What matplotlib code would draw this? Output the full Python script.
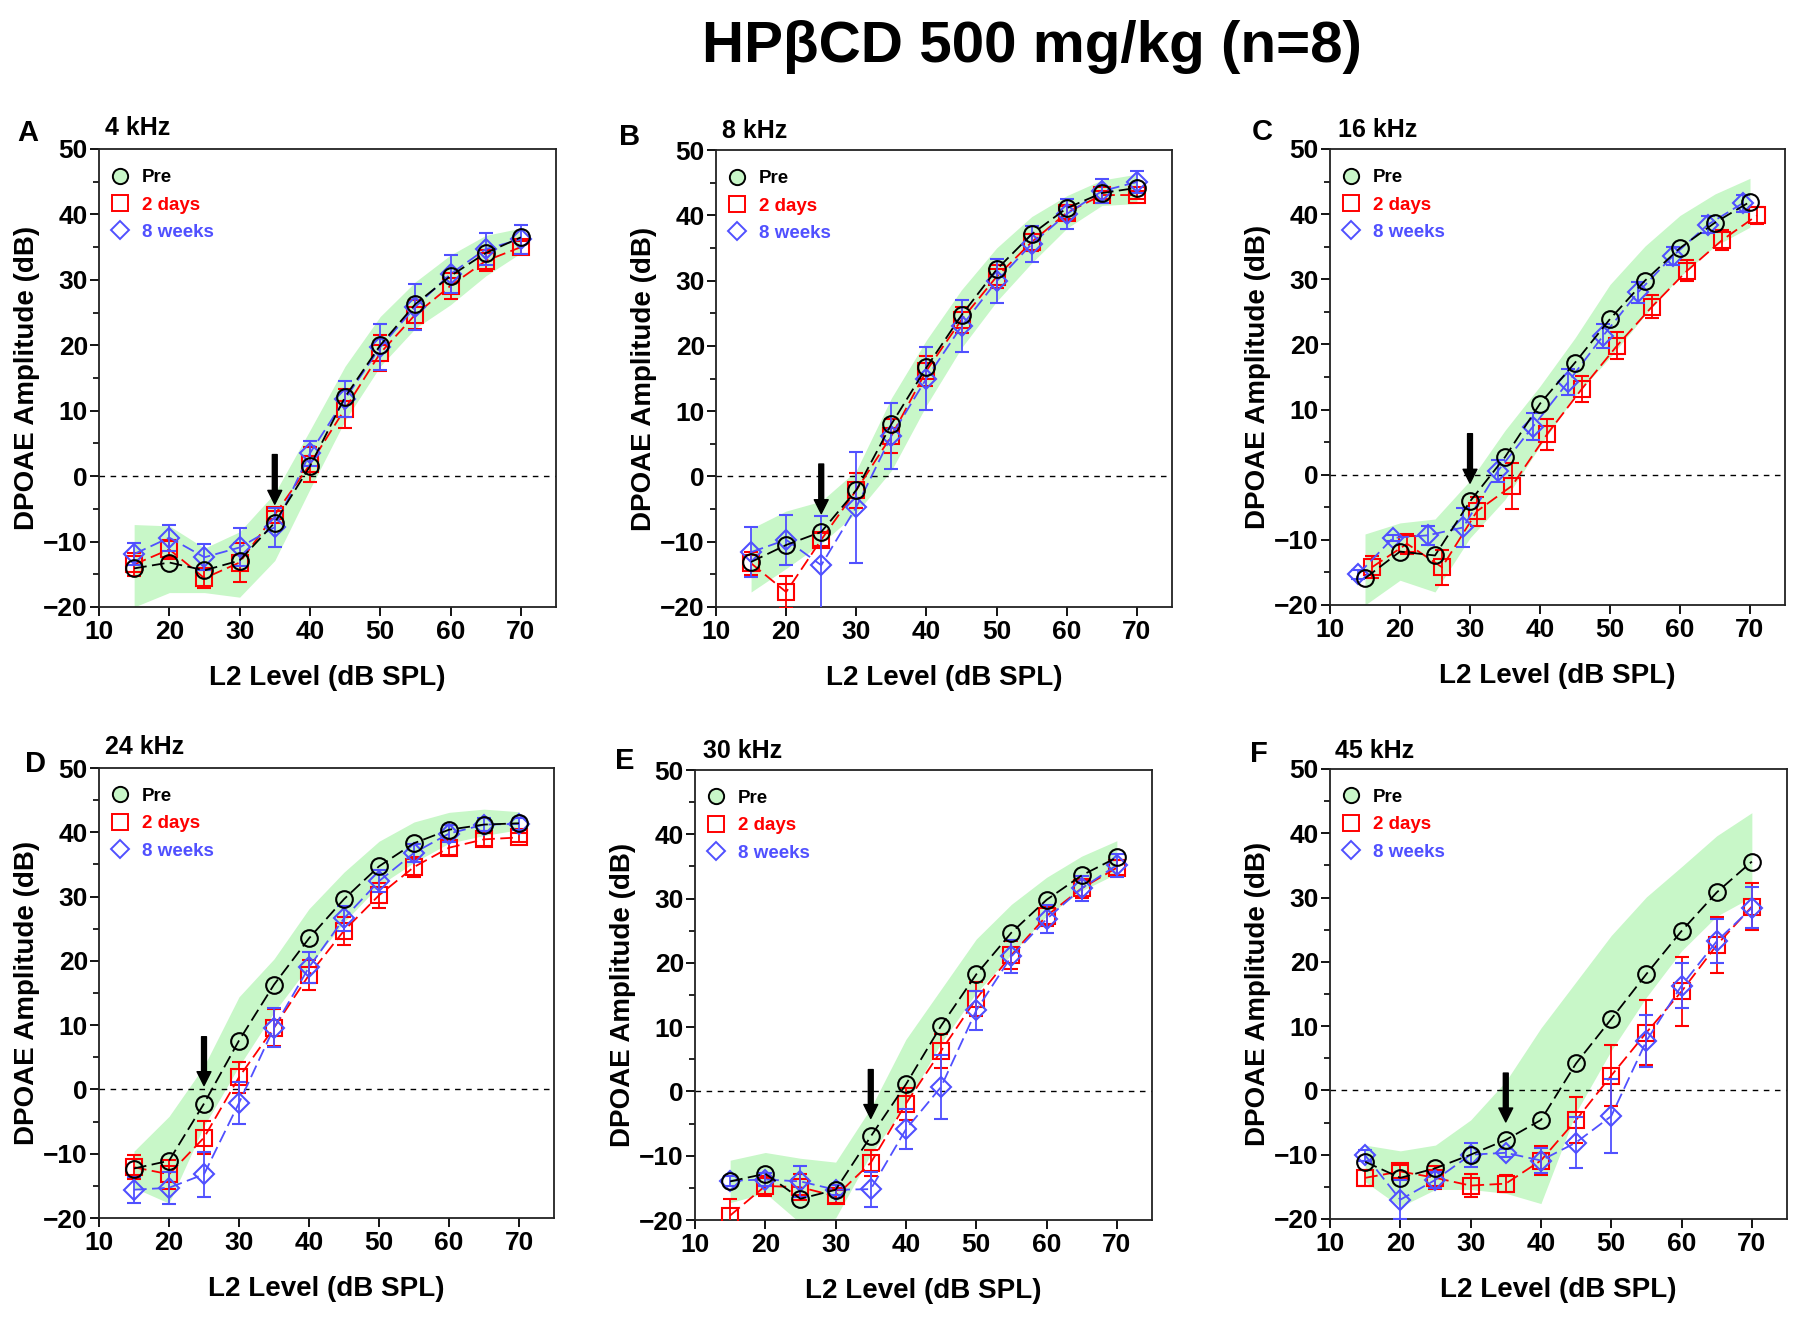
import matplotlib
matplotlib.use("Agg")
import matplotlib.pyplot as plt
from matplotlib.lines import Line2D
from matplotlib import font_manager
import numpy as np

plt.rcParams['font.family'] = ['Liberation Sans', 'DejaVu Sans']

try:
    font_manager.findfont("Liberation Sans Narrow", fallback_to_default=False)
    HAS_NARROW = True
except Exception:
    HAS_NARROW = False

# ---------------- data ----------------
levels = [15, 20, 25, 30, 35, 40, 45, 50, 55, 60, 65, 70]
panel_letters = ["A", "B", "C", "D", "E", "F"]
frequencies = ["4 kHz", "8 kHz", "16 kHz", "24 kHz", "30 kHz", "45 kHz"]
thresholds = [35, 25, 30, 25, 35, 35]
series_names = ["Pre", "2 days", "8 weeks"]

# 4 kHz
pre_4k = [-14.1, -13.2, -14.4, -12.9, -7.1, 1.5, 12.1, 20.0, 26.3, 30.6, 34.1, 36.5]
d2_4k = [-13.5, -11.2, -15.6, -13.2, -5.9, 1.8, 10.3, 18.8, 24.7, 29.1, 32.9, 35.0]
d2err_4k = [1.7, 1.5, 1.5, 3.0, 0.6, 2.7, 3.0, 2.7, 2.2, 2.0, 1.6, 1.0]
w8_4k = [-11.9, -9.4, -12.4, -10.9, -7.8, 3.5, 11.8, 19.7, 25.9, 30.9, 34.7, 36.2]
w8err_4k = [1.7, 2.0, 2.0, 2.9, 3.0, 1.9, 2.8, 3.5, 3.5, 2.9, 2.5, 2.2]
bandlo_4k = [-20.0, -17.8, -17.8, -18.5, -12.9, -2.0, 8.5, 16.8, 22.6, 26.2, 30.6, 34.1]
bandhi_4k = [-7.4, -7.6, -11.0, -8.5, -2.6, 7.0, 16.8, 24.4, 29.7, 33.8, 36.8, 37.9]

# 8 kHz
pre_8k = [-13.1, -10.5, -8.5, -2.1, 8.0, 16.7, 24.7, 31.7, 37.1, 41.1, 43.4, 44.2]
d2_8k = [-13.3, -17.7, -9.7, -2.1, 6.2, 16.2, 24.0, 30.6, 35.9, 40.4, 43.1, 43.1]
d2err_8k = [1.8, 2.4, 1.0, 2.7, 2.6, 2.3, 2.0, 1.8, 1.3, 1.0, 0.6, 0.6]
w8_8k = [-11.6, -9.7, -13.6, -4.7, 6.2, 15.0, 23.0, 29.9, 35.6, 40.2, 43.7, 45.1]
w8err_8k = [3.8, 3.8, 7.5, 8.5, 5.0, 4.9, 4.0, 3.4, 2.7, 2.3, 1.8, 1.7]
bandlo_8k = [-17.7, -14.1, -10.3, -5.6, 0.9, 10.9, 19.7, 26.8, 32.7, 38.0, 41.5, 41.8]
bandhi_8k = [-8.0, -5.3, -3.8, 0.9, 12.0, 20.9, 28.6, 35.0, 39.8, 43.0, 45.4, 46.3]

# 16 kHz
pre_16k = [-15.9, -11.8, -12.4, -4.1, 2.7, 10.9, 17.2, 23.9, 29.8, 34.8, 38.7, 41.9]
d2_16k = [-14.2, -10.6, -14.2, -5.6, -1.7, 6.2, 13.2, 19.8, 25.8, 31.3, 36.0, 39.8]
d2err_16k = [1.7, 1.5, 2.7, 2.2, 3.5, 2.4, 2.0, 2.1, 1.8, 1.6, 1.5, 1.3]
w8_16k = [-15.3, -9.7, -9.3, -8.1, 0.6, 7.4, 14.2, 21.3, 28.0, 33.6, 38.4, 41.7]
w8err_16k = [0.7, 0.5, 1.5, 3.0, 1.7, 2.0, 2.0, 1.9, 1.6, 1.4, 1.3, 1.3]
bandlo_16k = [-20.0, -16.2, -18.0, -9.7, -3.8, 4.4, 12.1, 18.0, 24.5, 30.4, 35.1, 38.0]
bandhi_16k = [-9.1, -7.4, -6.8, -0.9, 6.8, 13.6, 21.0, 29.2, 35.1, 39.8, 43.1, 45.5]

# 24 kHz
pre_24k = [-12.3, -11.1, -2.2, 7.6, 16.3, 23.5, 29.6, 34.7, 38.3, 40.4, 41.2, 41.4]
d2_24k = [-12.1, -13.2, -7.5, 1.9, 9.6, 17.8, 24.7, 30.2, 34.6, 37.6, 38.9, 39.2]
d2err_24k = [1.9, 2.3, 2.6, 2.4, 2.9, 2.4, 2.2, 1.9, 1.5, 1.2, 1.0, 0.7]
w8_24k = [-15.6, -15.3, -13.2, -2.1, 9.6, 19.0, 26.6, 32.4, 36.8, 39.8, 41.2, 41.3]
w8err_24k = [2.0, 2.5, 3.5, 3.3, 3.0, 2.4, 1.9, 1.7, 1.4, 1.3, 1.0, 1.0]
bandlo_24k = [-15.3, -17.7, -5.7, 3.6, 12.0, 19.2, 26.0, 31.7, 35.3, 38.3, 39.5, 40.4]
bandhi_24k = [-9.6, -4.2, 3.6, 14.4, 20.3, 28.1, 33.8, 38.6, 41.6, 43.1, 43.6, 43.2]

# 30 kHz
pre_30k = [-14.0, -12.8, -16.7, -15.3, -7.0, 1.1, 10.2, 18.2, 24.7, 29.8, 33.6, 36.4]
d2_30k = [-19.3, -14.7, -14.9, -16.3, -11.1, -1.9, 6.3, 14.4, 21.2, 27.3, 31.6, 34.8]
d2err_30k = [2.5, 1.5, 2.0, 1.0, 2.0, 2.5, 2.6, 2.6, 2.2, 1.6, 1.5, 1.2]
w8_30k = [-13.9, -13.7, -14.0, -15.3, -15.2, -5.9, 0.7, 12.6, 21.0, 26.8, 31.6, 35.2]
w8err_30k = [0.8, 1.0, 2.4, 0.8, 2.7, 3.1, 5.0, 3.1, 2.5, 2.2, 1.9, 1.8]
bandlo_30k = [-17.3, -15.8, -20.5, -19.7, -9.8, -2.0, 7.5, 15.3, 21.3, 27.3, 31.2, 33.9]
bandhi_30k = [-10.7, -9.5, -10.4, -11.0, -2.6, 8.1, 15.9, 23.7, 29.1, 33.3, 36.6, 39.0]

# 45 kHz
pre_45k = [-11.1, -13.6, -12.1, -10.0, -7.7, -4.6, 4.2, 11.1, 18.1, 24.8, 30.8, 35.6]
d2_45k = [-13.6, -12.6, -13.6, -14.8, -14.5, -10.9, -4.6, 2.3, 9.0, 15.4, 22.6, 28.6]
d2err_45k = [1.3, 1.0, 1.8, 1.8, 1.3, 2.3, 3.6, 4.7, 5.0, 5.3, 4.4, 3.6]
w8_45k = [-10.1, -17.0, -13.9, -10.0, -9.7, -10.9, -8.1, -4.0, 7.7, 16.3, 23.2, 28.4]
w8err_45k = [0.8, 3.0, 1.2, 1.9, 0.6, 2.0, 4.0, 5.8, 4.0, 3.5, 3.4, 3.2]
bandlo_45k = [-14.2, -18.1, -15.4, -15.4, -16.0, -17.6, -3.4, 6.2, 14.5, 21.7, 27.1, 30.1]
bandhi_45k = [-8.5, -9.4, -8.5, -4.6, 1.4, 9.7, 16.9, 24.1, 30.1, 34.8, 39.6, 43.2]

title = "HP\u03b2CD 500 mg/kg (n=8)"
xlabel = "L2 Level (dB SPL)"
ylabel = "DPOAE Amplitude (dB)"
x_ticks = [10, 20, 30, 40, 50, 60, 70]
y_ticks = [-20, -10, 0, 10, 20, 30, 40, 50]

# ---------------- layout / style ----------------
W, H = 1800, 1329
fig = plt.figure(figsize=(W / 100, H / 100), dpi=100)

# axes boxes in pixels: left, top, right, bottom
boxes = [(99, 149, 556, 607), (716, 150, 1172, 607), (1330, 149, 1785, 605),
         (99, 768, 554, 1218), (695, 770, 1152, 1220), (1330, 769, 1787, 1219)]
letter_pos = [(17, 141), (619, 145), (1252, 140), (25, 772), (615, 769), (1250, 762)]
freq_pos = [(105, 135), (722, 138), (1338, 137), (105, 754), (703, 758), (1335, 758)]
x_offsets = [0, 0, 1, 0, 0, 0]

C_PRE = "black"
C_D2 = "#ff0000"
C_W8 = "#5050ff"
C_BAND = "#c8f7c8"

panel_data = [
    (pre_4k, d2_4k, d2err_4k, w8_4k, w8err_4k, bandlo_4k, bandhi_4k),
    (pre_8k, d2_8k, d2err_8k, w8_8k, w8err_8k, bandlo_8k, bandhi_8k),
    (pre_16k, d2_16k, d2err_16k, w8_16k, w8err_16k, bandlo_16k, bandhi_16k),
    (pre_24k, d2_24k, d2err_24k, w8_24k, w8err_24k, bandlo_24k, bandhi_24k),
    (pre_30k, d2_30k, d2err_30k, w8_30k, w8err_30k, bandlo_30k, bandhi_30k),
    (pre_45k, d2_45k, d2err_45k, w8_45k, w8err_45k, bandlo_45k, bandhi_45k),
]

dash = (0, (7, 3))
x = np.array(levels, dtype=float)

for i, (pre, d2, d2e, w8, w8e, blo, bhi) in enumerate(panel_data):
    l, t, r, b = boxes[i]
    ax = fig.add_axes([l / W, 1 - b / H, (r - l) / W, (b - t) / H])
    ax.fill_between(x, blo, bhi, color=C_BAND, lw=0, zorder=0)
    ax.axhline(0, color="black", lw=1.0, ls=(0, (4, 4)), zorder=1)
    off = x_offsets[i]
    ax.errorbar(x + off, d2, yerr=d2e, color=C_D2, ls=dash, lw=1.3, marker="s",
                ms=11.5, mfc="none", mec=C_D2, mew=1.5, capsize=5, elinewidth=1.3,
                capthick=1.3, zorder=3)
    ax.errorbar(x - off, w8, yerr=w8e, color=C_W8, ls=dash, lw=1.3, marker="D",
                ms=10, mfc="none", mec=C_W8, mew=1.5, capsize=5, elinewidth=1.3,
                capthick=1.3, zorder=4)
    ax.plot(x, pre, color=C_PRE, ls=dash, lw=1.3, marker="o", ms=12, mfc="none",
            mec=C_PRE, mew=1.5, zorder=5)
    # threshold arrow
    th = thresholds[i]
    tip = pre[levels.index(th)] + 2.8
    ax.annotate("", xy=(th, tip), xytext=(th, tip + 7.6),
                arrowprops=dict(facecolor="black", edgecolor="black", width=3.5,
                                headwidth=10, headlength=10, shrink=0),
                zorder=6)

    ax.set_xlim(10, 75)
    ax.set_ylim(-20, 50)
    ax.set_xticks(x_ticks)
    ax.set_yticks(y_ticks)
    ax.set_yticks(np.arange(-15, 50, 10), minor=True)
    ax.tick_params(axis="both", which="major", direction="out", length=6.5, width=1.3,
                   labelsize=19)
    ax.tick_params(axis="x", which="major", pad=3)
    ax.tick_params(axis="y", which="major", pad=1.5)
    ax.tick_params(axis="y", which="minor", direction="out", length=4.5, width=1.2)
    for lab in ax.get_xticklabels() + ax.get_yticklabels():
        lab.set_fontweight("bold")
    for s in ax.spines.values():
        s.set_linewidth(1.3)
        s.set_color("#222222")
    ax.set_xlabel(xlabel, fontsize=20, fontweight="bold", labelpad=15)
    ax.set_ylabel(ylabel, fontsize=20, fontweight="bold", labelpad=2)

    handles = [
        Line2D([], [], ls="none", marker="o", ms=11, mfc=C_BAND, mec=C_PRE, mew=1.4),
        Line2D([], [], ls="none", marker="s", ms=11, mfc="none", mec=C_D2, mew=1.4),
        Line2D([], [], ls="none", marker="D", ms=9, mfc="none", mec=C_W8, mew=1.4),
    ]
    ax.legend(handles, series_names, loc="upper left", frameon=False,
              bbox_to_anchor=(0.0, 0.985), handlelength=0.8, handletextpad=0.8,
              labelspacing=0.55, borderaxespad=0.3,
              labelcolor=[C_PRE, C_D2, C_W8],
              prop={"weight": "bold", "size": 13.5})

    lx, ly = letter_pos[i]
    fig.text(lx / W, 1 - ly / H, panel_letters[i], fontsize=21, fontweight="bold",
             ha="left", va="baseline")
    fx, fy = freq_pos[i]
    fig.text(fx / W, 1 - fy / H, frequencies[i], fontsize=18, fontweight="bold",
             ha="left", va="baseline")

if HAS_NARROW:
    fig.text(1032 / W, 1 - 64 / H, title, fontsize=51, fontweight="bold",
             family=["Liberation Sans Narrow", "Liberation Sans"],
             ha="center", va="baseline")
else:
    fig.text(1032 / W, 1 - 62 / H, title, fontsize=42, fontweight="bold",
             ha="center", va="baseline")

fig.savefig("out.png", dpi=100)
